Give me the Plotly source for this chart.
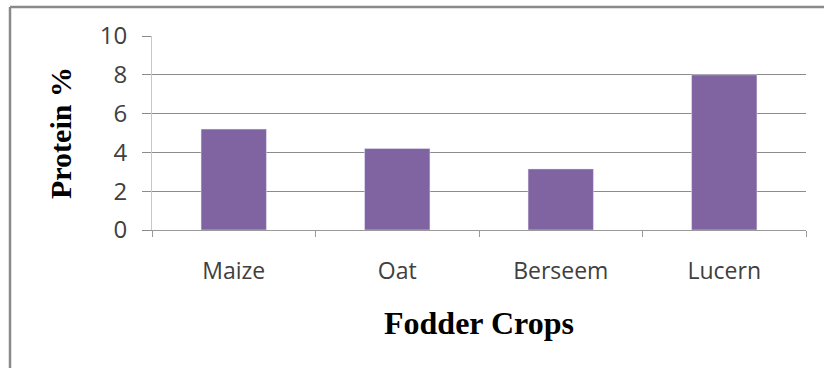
import plotly.graph_objects as go

crops = ["Maize", "Oat", "Berseem", "Lucern"]
protein = [5.2, 4.2, 3.15, 8.0]
y_ticks = [0, 2, 4, 6, 8, 10]

W, H = 824, 368
L, R, T, B = 152, 18, 36, 138
pw, ph = W - L - R, H - T - B

def px(x):
    return (x - L) / pw

def py(y):
    return (H - B - y) / ph

fig = go.Figure(go.Bar(x=crops, y=protein, marker_color="#8064A2", width=0.4))

fig.update_layout(
    width=W, height=H,
    margin=dict(l=L, r=R, t=T, b=B, pad=0),
    paper_bgcolor="white", plot_bgcolor="white",
    showlegend=False,
    font=dict(family="Open Sans", color="#404040"),
    xaxis=dict(
        showline=True, linecolor="#9a9a9a", linewidth=1,
        ticks="outside", tickson="boundaries", ticklen=6, tickcolor="#9a9a9a",
        tickfont=dict(size=23, family="Open Sans", color="#404040"),
        showgrid=False, ticklabelstandoff=20,
    ),
    yaxis=dict(
        range=[0, 10], tickvals=y_ticks,
        showline=True, linecolor="#c8c8c8", linewidth=1,
        showgrid=True, gridcolor="#8c8c8c", gridwidth=1,
        ticks="outside", ticklen=9, tickcolor="#8c8c8c",
        tickfont=dict(size=24, family="Open Sans", color="#404040"),
        ticklabelstandoff=10, zeroline=False,
    ),
    annotations=[
        dict(text="<b>Protein %</b>", textangle=-90, xref="paper", yref="paper",
             x=px(60), y=0.5, showarrow=False, xanchor="center", yanchor="middle",
             font=dict(family="Liberation Serif", size=30, color="black")),
        dict(text="<b>Fodder Crops</b>", xref="paper", yref="paper",
             x=0.5, y=py(323), showarrow=False, xanchor="center", yanchor="middle",
             font=dict(family="Liberation Serif", size=32, color="black")),
    ],
    shapes=[
        dict(type="line", xref="paper", yref="paper", x0=px(10), x1=px(W), y0=py(7), y1=py(7),
             line=dict(color="#8a8a8a", width=2.5)),
        dict(type="line", xref="paper", yref="paper", x0=px(10), x1=px(10), y0=py(7), y1=py(H),
             line=dict(color="#8a8a8a", width=2.5)),
    ],
)

fig.write_html("out.html")
